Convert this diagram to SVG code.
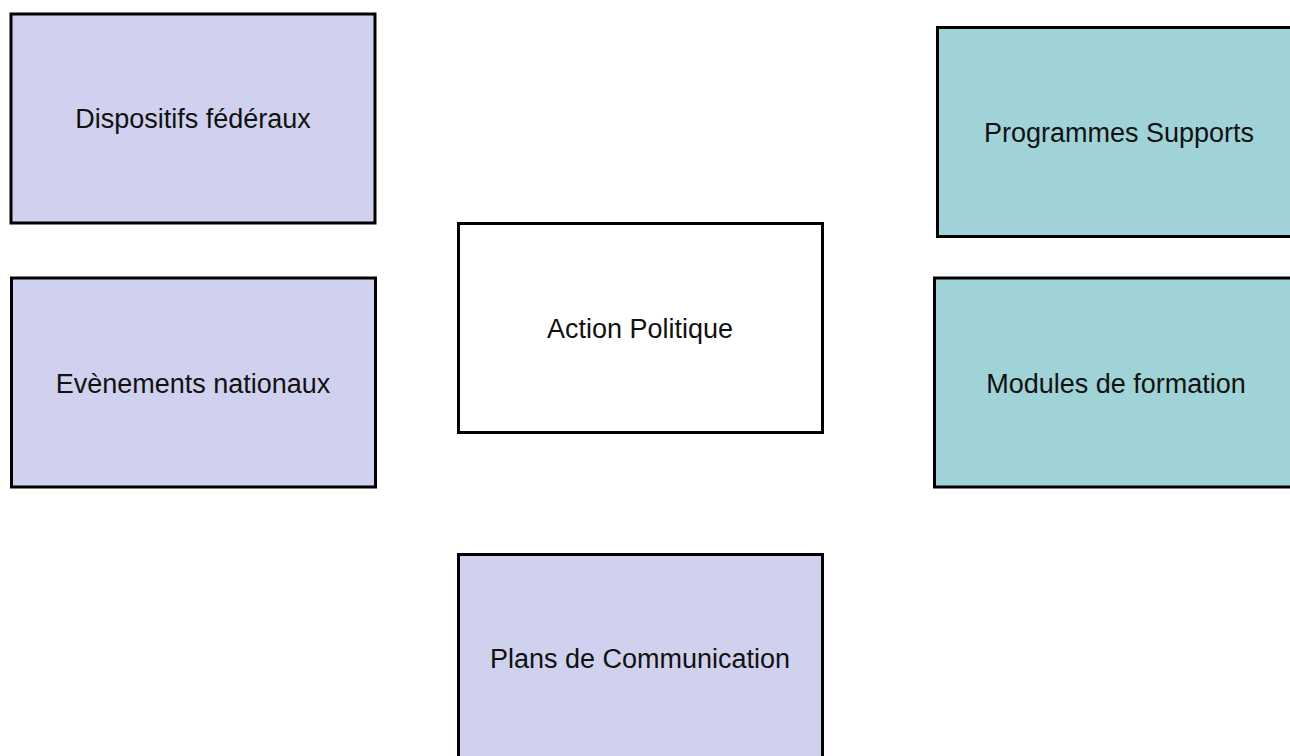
<svg xmlns="http://www.w3.org/2000/svg" width="1290" height="756" viewBox="0 0 1290 756">
  <style>
    .box { stroke: #000; stroke-width: 3; }
    .lav { fill: #D0D1EE; }
    .teal { fill: #A0D3D8; }
    .white { fill: #FFFFFF; }
    .lbl { font-family: "Liberation Sans", Arial, sans-serif; font-size: 27px; fill: #111; text-anchor: middle; }
  </style>
  <rect width="1290" height="756" fill="#FFFFFF"/>
  <g id="dispositifs">
    <rect class="box lav" x="11" y="14" width="364" height="209"/>
    <text class="lbl" x="193" y="128">Dispositifs fédéraux</text>
  </g>
  <g id="programmes">
    <rect class="box teal" x="937.5" y="27.5" width="364" height="209"/>
    <text class="lbl" x="1119" y="142">Programmes Supports</text>
  </g>
  <g id="action">
    <rect class="box white" x="458.5" y="223.5" width="364" height="209"/>
    <text class="lbl" x="640" y="338">Action Politique</text>
  </g>
  <g id="evenements">
    <rect class="box lav" x="11.5" y="278" width="364" height="209"/>
    <text class="lbl" x="193" y="393">Evènements nationaux</text>
  </g>
  <g id="modules">
    <rect class="box teal" x="934.5" y="278" width="364" height="209"/>
    <text class="lbl" x="1116" y="393">Modules de formation</text>
  </g>
  <g id="plans">
    <rect class="box lav" x="458.5" y="554.5" width="364" height="209"/>
    <text class="lbl" x="640" y="668">Plans de Communication</text>
  </g>
  <g id="connectors"></g>
</svg>
